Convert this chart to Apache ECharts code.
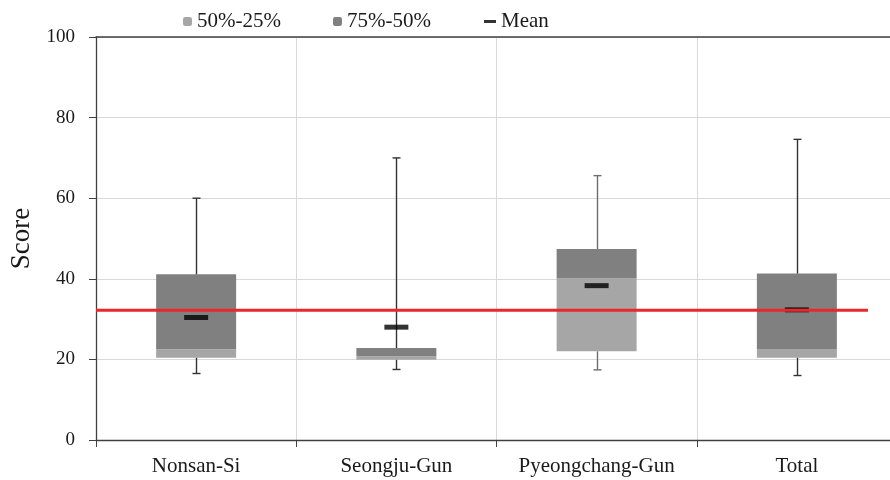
<!DOCTYPE html>
<html>
<head>
<meta charset="utf-8">
<script src="https://cdn.jsdelivr.net/npm/echarts@6/dist/echarts.min.js"></script>
<style>html,body{margin:0;padding:0;background:#fff}#c{width:890px;height:480px}</style>
</head>
<body>
<div id="c"></div>
<script>
var categories = ['Nonsan-Si', 'Seongju-Gun', 'Pyeongchang-Gun', 'Total'];
var minVals = [16.5, 17.5, 17.4, 16.0];
var q1Vals = [20.4, 19.9, 22.0, 20.4];
var medianVals = [22.5, 20.8, 40.1, 22.6];
var q3Vals = [41.1, 22.8, 47.4, 41.3];
var maxVals = [60.0, 70.0, 65.6, 74.6];
var meanVals = [30.4, 28.0, 38.3, 32.3];
var overallMean = 32.2;
var refLineX = [-0.5, 3.355];
var yTicks = [0, 20, 40, 60, 80, 100];

var FONT = '"Liberation Serif", "Times New Roman", serif';
var lightGrey = '#a6a6a6', darkGrey = '#808080';

var baseData = q1Vals.slice();
var lowerData = q1Vals.map(function (v, i) { return +(medianVals[i] - v).toFixed(2); });
var upperData = q3Vals.map(function (v, i) { return +(v - medianVals[i]).toFixed(2); });
var whiskerData = categories.map(function (c, i) { return [i, minVals[i], q1Vals[i], q3Vals[i], maxVals[i]]; });
var meanData = categories.map(function (c, i) { return [i, meanVals[i]]; });
var refData = refLineX.map(function (x) { return [x, overallMean]; });

var chart = echarts.init(document.getElementById('c'));
chart.setOption({
  animation: false,
  backgroundColor: '#fff',
  textStyle: { fontFamily: FONT },
  grid: { left: 96, width: 801, top: 37, bottom: 40, containLabel: false, outerBoundsMode: 'none' },
  legend: [
    { data: ['50%-25%'], left: 178, top: 6, itemWidth: 9, itemHeight: 9, itemGap: 0,
      textStyle: { fontFamily: FONT, fontSize: 21, color: '#1a1a1a' } },
    { data: ['75%-50%'], left: 328, top: 6, itemWidth: 9, itemHeight: 9, itemGap: 0,
      textStyle: { fontFamily: FONT, fontSize: 21, color: '#1a1a1a' } },
    { data: [{ name: 'Mean', icon: 'rect' }], left: 479, top: 6, itemWidth: 12, itemHeight: 3, itemGap: 0,
      textStyle: { fontFamily: FONT, fontSize: 21, color: '#1a1a1a' } }
  ],
  xAxis: [
    {
      type: 'category', data: categories, boundaryGap: true, position: 'bottom',
      axisLine: { onZero: false, lineStyle: { color: '#404040', width: 1.3 } },
      axisTick: { show: true, inside: false, length: 7, interval: 0, lineStyle: { color: '#404040' } },
      axisLabel: { fontFamily: FONT, fontSize: 21, color: '#1a1a1a', margin: 16, interval: 0, hideOverlap: false },
      splitLine: { show: true, interval: 0, lineStyle: { color: '#d9d9d9', width: 1 } }
    },
    {
      type: 'value', min: -0.5, max: 3.5, position: 'top',
      axisLine: { show: true, onZero: false, lineStyle: { color: '#404040', width: 1.5 } },
      axisTick: { show: false }, axisLabel: { show: false }, splitLine: { show: false }
    }
  ],
  yAxis: {
    type: 'value', min: 0, max: 100, interval: 20,
    name: 'Score', nameLocation: 'middle', nameGap: 60, nameRotate: 90,
    nameTextStyle: { fontFamily: FONT, fontSize: 27, color: '#1a1a1a' },
    axisLine: { show: true, onZero: false, lineStyle: { color: '#404040', width: 1.3 } },
    axisTick: { show: true, inside: false, length: 7, lineStyle: { color: '#404040' } },
    axisLabel: { fontFamily: FONT, fontSize: 19, color: '#1a1a1a', margin: 21,
      formatter: function (v) { return yTicks.indexOf(v) >= 0 ? String(v) : ''; } },
    splitLine: { show: true, lineStyle: { color: '#d9d9d9', width: 1 } }
  },
  series: [
    { name: 'base', type: 'bar', stack: 'box', data: baseData, barWidth: 80,
      itemStyle: { color: 'rgba(0,0,0,0)' }, silent: true, z: 2 },
    { name: '50%-25%', type: 'bar', stack: 'box', data: lowerData, barWidth: 80,
      itemStyle: { color: lightGrey }, z: 2 },
    { name: '75%-50%', type: 'bar', stack: 'box', data: upperData, barWidth: 80,
      itemStyle: { color: darkGrey }, z: 2 },
    { name: 'whiskers', type: 'custom', data: whiskerData, z: 3,
      encode: { x: 0, y: [1, 2, 3, 4] },
      renderItem: function (params, api) {
        var i = api.value(0);
        var pMin = api.coord([i, api.value(1)]);
        var pQ1 = api.coord([i, api.value(2)]);
        var pQ3 = api.coord([i, api.value(3)]);
        var pMax = api.coord([i, api.value(4)]);
        var x = Math.round(pMin[0]) + 0.5, hw = 4;
        var st = { stroke: i === 2 ? '#6e6e6e' : '#333333', lineWidth: 1.4 };
        return { type: 'group', children: [
          { type: 'line', shape: { x1: x, y1: pQ3[1], x2: x, y2: pMax[1] }, style: st },
          { type: 'line', shape: { x1: x - hw, y1: pMax[1], x2: x + hw, y2: pMax[1] }, style: st },
          { type: 'line', shape: { x1: x, y1: pQ1[1], x2: x, y2: pMin[1] }, style: st },
          { type: 'line', shape: { x1: x - hw, y1: pMin[1], x2: x + hw, y2: pMin[1] }, style: st }
        ] };
      }
    },
    { name: 'Mean', type: 'scatter', data: meanData, symbol: 'rect', symbolSize: [24, 5],
      itemStyle: { color: '#000' }, z: 4 },
    { name: 'ref', type: 'line', xAxisIndex: 1, data: refData, symbol: 'none',
      lineStyle: { color: '#e8282b', width: 3 }, z: 5, silent: true }
  ]
});
</script>
</body>
</html>
